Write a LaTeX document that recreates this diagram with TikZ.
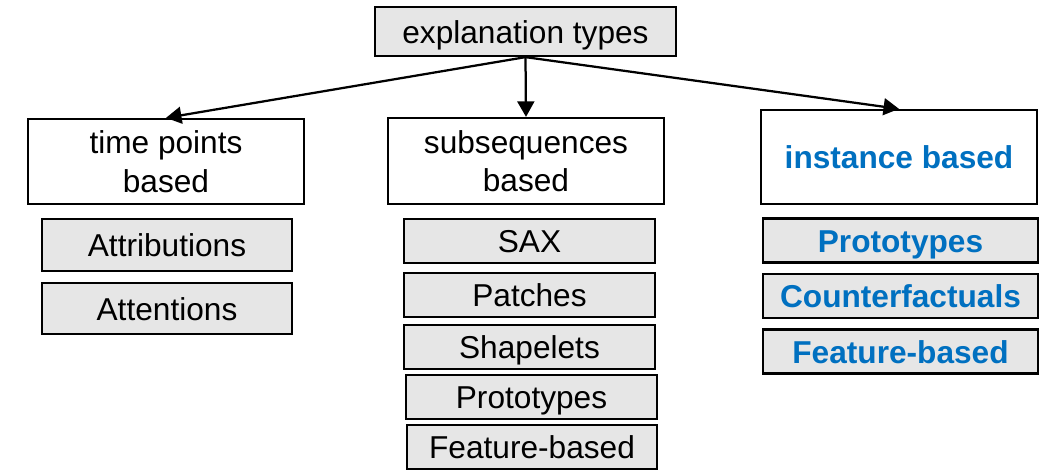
\documentclass[tikz,border=0pt]{standalone}
\usepackage{fontspec}
\setmainfont{Liberation Sans}
\usetikzlibrary{arrows.meta}
\definecolor{itemgray}{RGB}{230,230,230}
\definecolor{instblue}{RGB}{0,112,192}
\begin{document}
\begin{tikzpicture}[x=0.025cm,y=-0.025cm,
    every node/.style={font=\fontsize{22.5}{27.5}\selectfont, inner sep=0pt, line width=1.6pt,
        text height=16.4pt, text depth=0pt},
    headbox/.style={draw, fill=white, align=center, minimum width=6.9cm},
    twolines/.style={text height=43.9pt},
    itembox/.style={draw, fill=itemgray, minimum height=1.1cm},
    blue text/.style={text=instblue, font=\fontsize{22.5}{27.5}\selectfont\bfseries},
    link/.style={-{Triangle[length=11pt,width=12pt]}, line width=1.6pt}]
    \useasboundingbox (0,0) rectangle (1040,470);
    % root
    \node[draw, fill=itemgray, minimum width=7.525cm, minimum height=1.225cm] (types) at (525.5,31.5) {explanation types};
    % three kinds
    \node[headbox, twolines, minimum height=2.125cm] (timepts) at (166,161.5) {time points\\based};
    \node[headbox, twolines, minimum height=2.15cm] (subseq) at (526,161) {subsequences\\based};
    \node[headbox, blue text, minimum height=2.35cm] (instance) at (899,157) {instance based};
    \draw[link] (types.south) -- (timepts.north);
    \draw[link] (types.south) -- (subseq.north);
    \draw[link] (types.south) -- (instance.north);
    % time points
    \node[itembox, minimum width=6.25cm, minimum height=1.3cm] (attrib) at (167,245) {Attributions};
    \node[itembox, minimum width=6.25cm, minimum height=1.275cm] (attent) at (167,308.5) {Attentions};
    % subsequences
    \node[itembox, minimum width=6.275cm] (sax) at (529.5,241) {SAX};
    \node[itembox, minimum width=6.275cm] (patches) at (529.5,295) {Patches};
    \node[itembox, minimum width=6.275cm] (shapelets) at (529.5,347) {Shapelets};
    \node[itembox, minimum width=6.275cm] (subproto) at (531.5,397) {Prototypes};
    \node[itembox, minimum width=6.25cm] (subfeat) at (532,447) {Feature-based};
    % instances
    \node[itembox, blue text, minimum width=6.875cm] (instproto) at (900.5,240.5) {Prototypes};
    \node[itembox, blue text, minimum width=6.875cm] (counterf) at (900.5,296) {Counterfactuals};
    \node[itembox, blue text, minimum width=6.875cm] (instfeat) at (900.5,351.5) {Feature-based};
\end{tikzpicture}
\end{document}
